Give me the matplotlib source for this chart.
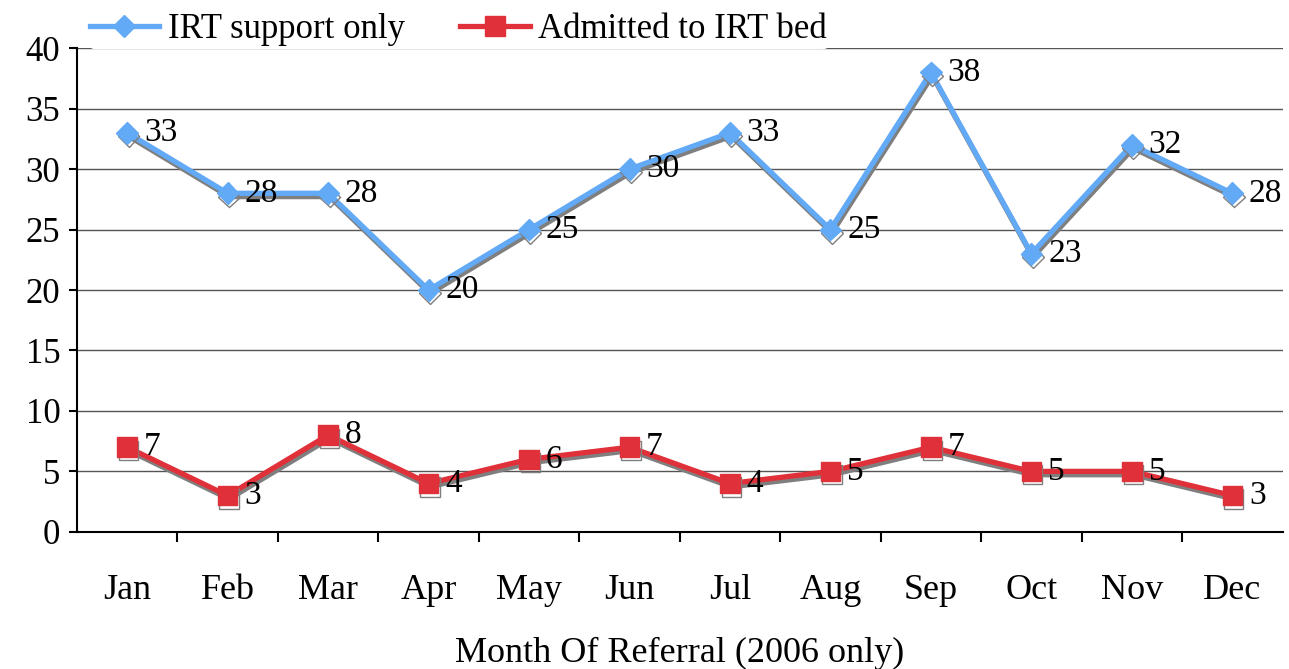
import matplotlib
matplotlib.use("Agg")
import matplotlib.pyplot as plt
import matplotlib.patheffects as pe
import numpy as np

# Monthly referrals, 2006
months = ["Jan", "Feb", "Mar", "Apr", "May", "Jun",
          "Jul", "Aug", "Sep", "Oct", "Nov", "Dec"]
support_only = [33, 28, 28, 20, 25, 30, 33, 25, 38, 23, 32, 28]
admitted = [7, 3, 8, 4, 6, 7, 4, 5, 7, 5, 5, 3]

plt.rcParams["font.family"] = ["Liberation Serif", "DejaVu Serif"]

fig = plt.figure(figsize=(12.89, 6.69), dpi=100)
ax = fig.add_axes([0.0597, 0.205, 0.9353, 0.723])

x = np.arange(len(months))
shadow = [pe.SimpleLineShadow(offset=(1.0, -2.4), shadow_color="#7f7f7f", alpha=1.0),
          pe.Normal()]

ax.plot(x, support_only, color="#62a9f6", lw=3.8, marker="D", ms=11,
        label="IRT support only", path_effects=shadow, zorder=3)
ax.plot(x, admitted, color="#e0313a", lw=3.8, marker="s", ms=14,
        label="Admitted to IRT bed", path_effects=shadow, zorder=3)

for series in (support_only, admitted):
    for xi, v in zip(x, series):
        ax.annotate(str(v), (xi, v), xytext=(12, 0), textcoords="offset points",
                    ha="left", va="center", fontsize=24, zorder=4)

ax.set_xlim(-0.5, len(months) - 0.5)
ax.set_ylim(0, 40)
ax.set_yticks(np.arange(0, 41, 5))
ax.yaxis.grid(True, color="#555555", lw=1.0)
ax.set_axisbelow(True)

ax.set_xticks(x)
ax.set_xticklabels(months, fontsize=26)
ax.set_xticks(np.arange(0.5, len(months) - 0.5, 1), minor=True)
ax.tick_params(axis="x", which="major", length=0, pad=30)
ax.tick_params(axis="x", which="minor", length=7, width=1.5, direction="out")
ax.tick_params(axis="y", labelsize=25, length=6, width=1.5, pad=6)

for side in ("top", "right"):
    ax.spines[side].set_visible(False)
for side in ("left", "bottom"):
    ax.spines[side].set_linewidth(1.5)

ax.set_xlabel("Month Of Referral (2006 only)", fontsize=26, labelpad=22)

leg = ax.legend(loc="lower left", bbox_to_anchor=(0.009, 1.0), ncol=2,
                fontsize=25, frameon=True, handlelength=2.0, handletextpad=0.25,
                columnspacing=1.6, borderaxespad=0, borderpad=0.05)
leg.get_frame().set_edgecolor("white")
leg.get_frame().set_facecolor("white")
leg.get_frame().set_alpha(1.0)
for line in leg.get_lines():
    line.set_path_effects([])

fig.savefig("out.png", dpi=100)
